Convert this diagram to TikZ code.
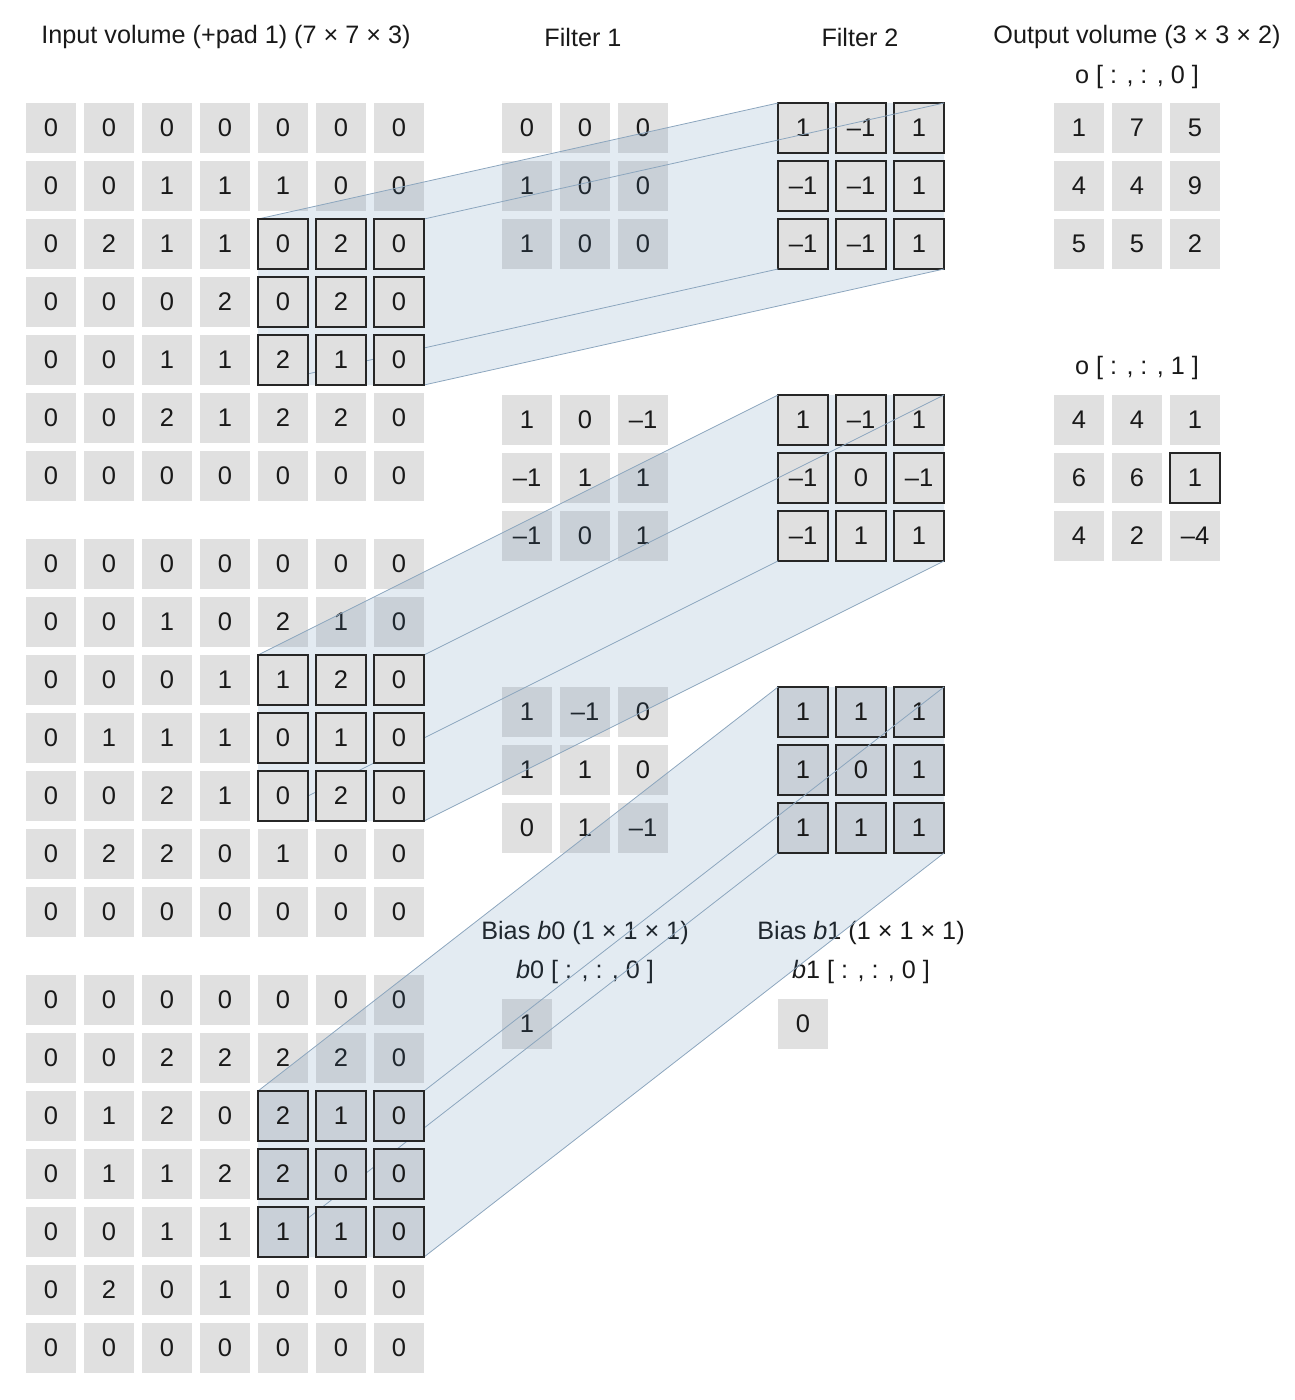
\documentclass[tikz,border=0pt]{standalone}
\usepackage{fontspec}
\setmainfont{Liberation Sans}
\pgfdeclarelayer{bg}
\pgfdeclarelayer{tint}
\pgfdeclarelayer{front}
\pgfdeclarelayer{edges}
\pgfsetlayers{bg,tint,front,edges,main}
\definecolor{cellgray}{RGB}{224,224,224}
\definecolor{bluefill}{RGB}{70,120,170}
\colorlet{tintgray}{cellgray!85!bluefill}
\definecolor{edgeblue}{RGB}{140,166,190}
\definecolor{txt}{RGB}{25,25,25}
\newcommand\myCellFont{\fontsize{25.5}{30}\selectfont}
\newcommand\myLabFont{\fontsize{25.2}{30}\selectfont}
\tikzset{
  cell/.style={minimum width=50pt,minimum height=50pt,inner sep=0pt,outer sep=0pt,
    fill=cellgray,text=txt,font=\myCellFont},
  hcell/.style={cell,draw=black!85,line width=1.5pt},
  tcell/.style={hcell,fill=tintgray},
  lab/.style={text=txt,font=\myLabFont,inner sep=0pt},
  prism/.style={fill=bluefill,fill opacity=0.15,draw=none},
  edge/.style={draw=edgeblue,line width=0.8pt}
}
% #1 prefix, #2 y0, #3 data, #4 pass (0 plain / 1 window), #5 style
\newcommand\inputgrid[5]{%
  \foreach \row [count=\r from 0] in {#3} {
    \foreach \v [count=\c from 0] in \row {
      \pgfmathtruncatemacro\hl{(\r>1)*(\r<5)*(\c>3)}
      \ifnum\hl=#4\relax
        \node[#5] (#1-\r-\c) at ({51+58*\c},{#2+58*\r}) {\v};
      \fi
    }
  }
}
% #1 prefix, #2 x0, #3 y0, #4 data, #5 style
\newcommand\smallgrid[5]{%
  \foreach \row [count=\r from 0] in {#4} {
    \foreach \v [count=\c from 0] in \row {
      \node[#5] (#1-\r-\c) at ({#2+58*\c},{#3+58*\r}) {\v};
    }
  }
}
\newcommand\dataA{{0,0,0,0,0,0,0},{0,0,1,1,1,0,0},{0,2,1,1,0,2,0},{0,0,0,2,0,2,0},{0,0,1,1,2,1,0},{0,0,2,1,2,2,0},{0,0,0,0,0,0,0}}
\newcommand\dataB{{0,0,0,0,0,0,0},{0,0,1,0,2,1,0},{0,0,0,1,1,2,0},{0,1,1,1,0,1,0},{0,0,2,1,0,2,0},{0,2,2,0,1,0,0},{0,0,0,0,0,0,0}}
\newcommand\dataC{{0,0,0,0,0,0,0},{0,0,2,2,2,2,0},{0,1,2,0,2,1,0},{0,1,1,2,2,0,0},{0,0,1,1,1,1,0},{0,2,0,1,0,0,0},{0,0,0,0,0,0,0}}
\begin{document}
\begin{tikzpicture}[x=1pt,y=-1pt]
\useasboundingbox (0,0) rectangle (1294,1400);

\begin{pgfonlayer}{bg}
  % titles and labels
  \node[lab] (tin)  at (226,37) {Input volume (+pad 1) (7 × 7 × 3)};
  \node[lab] (tf1)  at (583,37) {Filter 1};
  \node[lab] (tf2)  at (860,37) {Filter 2};
  \node[lab] (tout) at (1137,37) {Output volume (3 × 3 × 2)};
  \node[lab] (to0)  at (1137,77) {o [ : , : , 0 ]};
  \node[lab] (to1)  at (1137,368) {o [ : , : , 1 ]};
  \node[lab] (tb0)  at (585,933) {Bias {\itshape b}0 (1 × 1 × 1)};
  \node[lab] (tb0s) at (585,972) {{\itshape b}0 [ : , : , 0 ]};
  \node[lab] (tb1)  at (861,933) {Bias {\itshape b}1 (1 × 1 × 1)};
  \node[lab] (tb1s) at (861,972) {{\itshape b}1 [ : , : , 0 ]};

  % input volume, plain cells
  \expandafter\inputgrid\expandafter{\expandafter i\expandafter a\expandafter}\expandafter{\expandafter1\expandafter2\expandafter8\expandafter}\expandafter{\dataA}{0}{cell}
  \expandafter\inputgrid\expandafter{\expandafter i\expandafter b\expandafter}\expandafter{\expandafter5\expandafter6\expandafter4\expandafter}\expandafter{\dataB}{0}{cell}
  \expandafter\inputgrid\expandafter{\expandafter i\expandafter c\expandafter}\expandafter{\expandafter1\expandafter0\expandafter0\expandafter0\expandafter}\expandafter{\dataC}{0}{cell}

  % filter 1
  \smallgrid{fa}{527}{128}{{0,0,0},{1,0,0},{1,0,0}}{cell}
  \smallgrid{fb}{527}{420}{{1,0,–1},{–1,1,1},{–1,0,1}}{cell}
  \smallgrid{fc}{527}{712}{{1,–1,0},{1,1,0},{0,1,–1}}{cell}

  % output volume
  \smallgrid{oa}{1079}{128}{{1,7,5},{4,4,9},{5,5,2}}{cell}
  \node[cell] (ob-0-0) at (1079,420) {4};
  \node[cell] (ob-0-1) at (1137,420) {4};
  \node[cell] (ob-0-2) at (1195,420) {1};
  \node[cell] (ob-1-0) at (1079,478) {6};
  \node[cell] (ob-1-1) at (1137,478) {6};
  \node[cell] (ob-2-0) at (1079,536) {4};
  \node[cell] (ob-2-1) at (1137,536) {2};
  \node[cell] (ob-2-2) at (1195,536) {–4};

  % biases
  \node[cell] (bz) at (527,1024) {1};
  \node[cell] (bo) at (803,1024) {0};
\end{pgfonlayer}

% highlighted output cell
\node[hcell] (ob-1-2) at (1195,478) {1};

% filter 2
\begin{pgfonlayer}{front}
  \smallgrid{ga}{803}{128}{{1,–1,1},{–1,–1,1},{–1,–1,1}}{hcell}
  \smallgrid{gb}{803}{420}{{1,–1,1},{–1,0,–1},{–1,1,1}}{hcell}
  \smallgrid{gc}{803}{712}{{1,1,1},{1,0,1},{1,1,1}}{tcell}
\end{pgfonlayer}

% receptive-field windows (on top)
\expandafter\inputgrid\expandafter{\expandafter i\expandafter a\expandafter}\expandafter{\expandafter1\expandafter2\expandafter8\expandafter}\expandafter{\dataA}{1}{hcell}
\expandafter\inputgrid\expandafter{\expandafter i\expandafter b\expandafter}\expandafter{\expandafter5\expandafter6\expandafter4\expandafter}\expandafter{\dataB}{1}{hcell}
\expandafter\inputgrid\expandafter{\expandafter i\expandafter c\expandafter}\expandafter{\expandafter1\expandafter0\expandafter0\expandafter0\expandafter}\expandafter{\dataC}{1}{tcell}

% translucent prisms
\begin{pgfonlayer}{tint}
  \foreach \w/\g in {ia/ga,ib/gb,ic/gc} {
    \fill[prism] (\w-2-4.north west) -- (\g-0-0.north west) -- (\g-0-2.north east)
      -- (\g-2-2.south east) -- (\w-4-6.south east) -- (\w-4-4.south west) -- cycle;
  }
\end{pgfonlayer}

% prism edges
\begin{pgfonlayer}{edges}
  \foreach \w/\g in {ia/ga,ib/gb,ic/gc} {
    \draw[edge] (\w-2-4.north west) -- (\g-0-0.north west);
    \draw[edge] (\w-2-6.north east) -- (\g-0-2.north east);
    \draw[edge] (\w-4-6.south east) -- (\g-2-2.south east);
    \draw[edge] (\w-4-4.south west) -- (\g-2-0.south west);
  }
\end{pgfonlayer}
\end{tikzpicture}
\end{document}
